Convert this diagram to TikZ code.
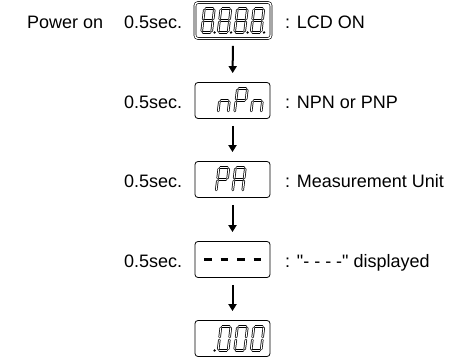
\documentclass[tikz,border=0pt]{standalone}
\usepackage{fontspec}
\newfontfamily\lcdsans{Liberation Sans}
\usetikzlibrary{arrows.meta}

% segments of a seven-segment character
\def\sega{(0,0.5) -- (1,0.5)}
\def\segb{(1,0.5) -- (1,0)}
\def\segc{(1,0) -- (1,-0.5)}
\def\segd{(0,-0.5) -- (1,-0.5)}
\def\sege{(0,-0.5) -- (0,0)}
\def\segf{(0,0) -- (0,0.5)}
\def\segg{(0,0) -- (1,0)}

% one character: left x, centre y, list of segments
\newcommand\lcdchar[3]{%
  \begin{scope}[shift={(#1,#2)}, xslant=0.12, x=10pt, y=24pt]
    \foreach \s in {#3} {\draw[lcdseg] \csname seg\s\endcsname;}
  \end{scope}}
\newcommand\lcddot[2]{%
  \begin{scope}[shift={(#1,#2)}, xslant=0.12, x=10pt, y=24pt]
    \fill (1.3,-0.5) circle (1.3pt);
  \end{scope}}

\begin{document}
\begin{tikzpicture}[x=1pt,y=1pt,
    lcd/.style={draw, rounded corners=3pt, line width=0.8pt, minimum width=75pt, minimum height=36pt, inner sep=0pt},
    lcdseg/.style={double, line width=0.75pt, double distance=1pt, line cap=round, shorten <=1.5pt, shorten >=1.5pt},
    dashseg/.style={line width=2.4pt, shorten <=1.2pt, shorten >=1.2pt},
    flow/.style={-{Triangle[width=8pt,length=7pt]}, line width=2pt, shorten <=7pt, shorten >=9pt},
    txt/.style={anchor=base west, inner sep=0pt, font=\lcdsans\fontsize{18}{21}\selectfont}]
  \useasboundingbox (0,0) rectangle (464,358);

  % display frames
  \node[lcd, double, line width=0.6pt, double distance=1.4pt, minimum width=76pt] (b1) at (233,337.5) {};
  \node[lcd] (b2) at (232.5,257.5) {};
  \node[lcd] (b3) at (232.5,178.5) {};
  \node[lcd] (b4) at (232.5,98.5) {};
  \node[lcd] (b5) at (232.5,19.5) {};

  \draw[flow] (b1) -- (b2);
  \draw[flow] (b2) -- (b3);
  \draw[flow] (b3) -- (b4);
  \draw[flow] (b4) -- (b5);

  % display contents
  \foreach \x in {203,219.5,236,252.5} {
    \lcdchar{\x}{337.5}{a,b,c,d,e,f,g}
    \lcddot{\x}{337.5}
  }
  \lcdchar{219.5}{257.5}{g,c,e}
  \lcdchar{236}{257.5}{a,b,g,f,e}
  \lcdchar{252.5}{257.5}{g,c,e}
  \lcdchar{217.5}{178.5}{a,b,g,f,e}
  \lcdchar{234}{178.5}{a,b,c,e,f,g}
  \foreach \x in {203,219.5,236,252.5} {
    \draw[dashseg] (\x,98.5) -- ++(10,0);
  }
  \lcddot{203}{19.5}
  \foreach \x in {219.5,236,252.5} {
    \lcdchar{\x}{19.5}{a,b,c,d,e,f}
  }

  % labels
  \node[txt] (pwr) at (27,329) {Power on};
  \node[txt] (t1) at (124,329) {0.5sec.};
  \node[txt] (t2) at (124,249.5) {0.5sec.};
  \node[txt] (t3) at (124,170) {0.5sec.};
  \node[txt] (t4) at (124,90.5) {0.5sec.};
  \node[txt] (l1) at (285,329) {: LCD ON};
  \node[txt] (l2) at (285,249.5) {: NPN or PNP};
  \node[txt] (l3) at (285,170) {: Measurement Unit};
  \node[txt] (l4) at (285,90.5) {: "- - - -" displayed};
\end{tikzpicture}
\end{document}
